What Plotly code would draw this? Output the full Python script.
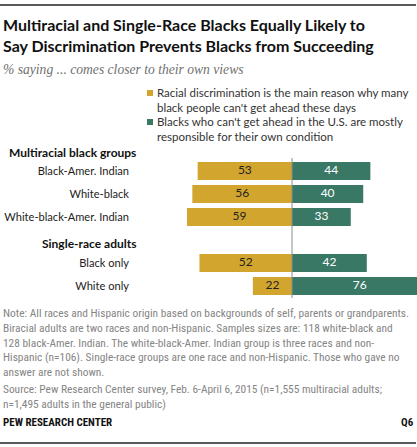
import plotly.graph_objects as go

# ---- data ----
categories = ["Black-Amer. Indian", "White-black", "White-black-Amer. Indian", " ", "Black only", "White only"]
bar_categories = ["Black-Amer. Indian", "White-black", "White-black-Amer. Indian", "Black only", "White only"]
discrimination = [53, 56, 59, 52, 22]
responsible = [44, 40, 33, 42, 76]
group_headers = ["Multiracial black groups", "Single-race adults"]
series_names = [
    "Racial discrimination is the main reason why many<br>black people can't get ahead these days",
    "Blacks who can't get ahead in the U.S. are mostly<br>responsible for their own condition",
]

GOLD = "#D2A52F"
GREEN = "#3A7866"
W, H = 417, 447
L, R, T, B = 135, 0, 0, 0
PH = H - T - B
PW = W - L - R
ROW0, ROWSTEP = 171, 23   # pixel centre of first row, row spacing

def px(x):
    return (x - L) / PW

def py(y):
    return (H - B - y) / PH

LATO = "Lato, Liberation Sans, sans-serif"
COND = "Roboto Condensed, Liberation Sans, sans-serif"

fig = go.Figure()
fig.add_trace(go.Bar(
    y=bar_categories, x=[-v for v in discrimination], orientation="h",
    marker=dict(color=GOLD, line=dict(width=0)), width=0.78,
    hoverinfo="skip", showlegend=False,
))
fig.add_trace(go.Bar(
    y=bar_categories, x=responsible, orientation="h",
    marker=dict(color=GREEN, line=dict(width=0)), width=0.78,
    hoverinfo="skip", showlegend=False,
))
fig.add_trace(go.Scatter(
    y=bar_categories, x=[-v / 2 for v in discrimination], mode="text",
    text=[str(v) for v in discrimination], textposition="middle center",
    textfont=dict(color="#222222", size=12, family=LATO),
    hoverinfo="skip", showlegend=False, cliponaxis=False,
))
fig.add_trace(go.Scatter(
    y=bar_categories, x=[v / 2 for v in responsible], mode="text",
    text=[str(v) for v in responsible], textposition="middle center",
    textfont=dict(color="white", size=12, family=LATO),
    hoverinfo="skip", showlegend=False, cliponaxis=False,
))

fig.update_layout(
    template="none",
    width=W, height=H, margin=dict(l=L, r=R, t=T, b=B, autoexpand=False),
    paper_bgcolor="white", plot_bgcolor="white", barmode="relative",
    xaxis=dict(range=[-88.2, 70.2], visible=False, fixedrange=True, automargin=False),
    yaxis=dict(type="category", categoryorder="array", categoryarray=categories,
               range=[(H - ROW0) / ROWSTEP, -ROW0 / ROWSTEP],
               showgrid=False, zeroline=False, showline=False,
               ticks="", ticklabelstandoff=5, fixedrange=True, automargin=False,
               tickfont=dict(size=11.1, color="#222222", family=LATO)),
)

# center line
fig.add_shape(type="line", xref="x", yref="paper", x0=0, x1=0, y0=py(298), y1=py(158),
              line=dict(color="#8C8C8C", width=1), layer="above")

# top and bottom rules
for yr in (5, 443):
    fig.add_shape(type="line", xref="paper", yref="paper", x0=px(0), x1=px(416),
                  y0=py(yr), y1=py(yr), line=dict(color="#222222", width=1.5), layer="above")

def ann(text, x, y, xanchor="left", yanchor="middle", **font):
    fig.add_annotation(text=text, xref="paper", yref="paper", x=x, y=y, xanchor=xanchor,
                       yanchor=yanchor, showarrow=False, align="left" if xanchor == "left" else "right",
                       font=font)

ann("<b>Multiracial and Single-Race Blacks Equally Likely to<br>Say Discrimination Prevents Blacks from Succeeding</b>",
    px(1), py(35), size=16, color="#111111", family=LATO)
ann("<i>% saying ... comes closer to their own views</i>", px(1), py(69),
    size=13.6, color="#707070", family="Liberation Serif, DejaVu Serif, serif")

# legend
for i, (name, col) in enumerate(zip(series_names, [GOLD, GREEN])):
    yc = 93 + 29 * i
    fig.add_shape(type="rect", xref="paper", yref="paper", x0=px(147), x1=px(153),
                  y0=py(yc - 3), y1=py(yc + 3), fillcolor=col, line=dict(width=0))
    ann(name, px(155), py(yc + 7), size=11.5, color="#333333", family=LATO)

# group headers
ann("<b>" + group_headers[0] + "</b>", px(138), py(152), xanchor="right", size=12, color="#111111", family=LATO)
ann("<b>" + group_headers[1] + "</b>", px(138), py(243), xanchor="right", size=12, color="#111111", family=LATO)

note = ("Note: All races and Hispanic origin based on backgrounds of self, parents or grandparents.<br>"
        "Biracial adults are two races and non-Hispanic. Samples sizes are: 118 white-black and<br>"
        "128 black-Amer. Indian. The white-black-Amer. Indian group is three races and non-<br>"
        "Hispanic (n=106). Single-race groups are one race and non-Hispanic. Those who gave no<br>"
        "answer are not shown.")
source = ("Source: Pew Research Center survey, Feb. 6-April 6, 2015 (n=1,555 multiracial adults;<br>"
          "n=1,495 adults in the general public)")
ann(note, px(1), py(342), size=11.4, color="#858585", family=COND)
ann(source, px(1), py(396.5), size=11.4, color="#858585", family=COND)
ann("<b>PEW RESEARCH CENTER</b>", px(1), py(422), size=11, color="#111111", family=COND)
ann("<b>Q6</b>", px(416), py(422), xanchor="right", size=11, color="#111111", family=COND)

fig.write_html("out.html", config={"displayModeBar": False},
               post_script="document.body.style.margin='0';")
